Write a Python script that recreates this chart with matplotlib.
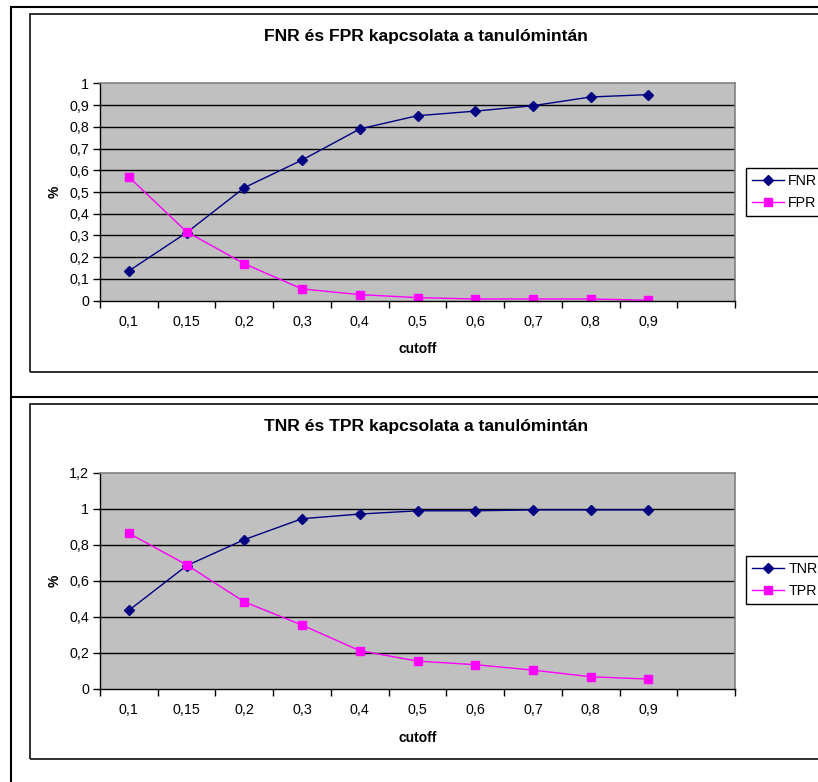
import matplotlib
matplotlib.use('Agg')
import matplotlib.pyplot as plt
from matplotlib.patches import Rectangle
from matplotlib.lines import Line2D

plt.rcParams['font.family'] = ['Liberation Sans', 'DejaVu Sans']

cutoff = ['0,1', '0,15', '0,2', '0,3', '0,4', '0,5', '0,6', '0,7', '0,8', '0,9']
fnr = [0.137, 0.313, 0.52, 0.647, 0.79, 0.851, 0.872, 0.897, 0.937, 0.948]
fpr = [0.569, 0.317, 0.17, 0.054, 0.028, 0.014, 0.008, 0.008, 0.008, 0.002]
tnr = [0.437, 0.685, 0.83, 0.946, 0.972, 0.99, 0.99, 0.995, 0.995, 0.995]
tpr = [0.865, 0.69, 0.484, 0.355, 0.213, 0.155, 0.135, 0.105, 0.068, 0.055]

W, H = 818, 782


def fx(px):
    return px / W


def fy(py):
    return 1 - py / H


def fmt(v):
    s = ('%.1f' % v).replace('.', ',')
    if s.endswith(',0'):
        s = s[:-2]
    return s


def chart(fig, top, bot, title, names, s1, s2, ymax, ystep, frame_top, frame_bot, leg_y):
    # frame
    fig.add_artist(Rectangle((fx(30), fy(frame_bot)), fx(830 - 30), (frame_bot - frame_top) / H,
                             transform=fig.transFigure, fill=False, ec='#202020', lw=1.3))
    ax = fig.add_axes([fx(100), fy(bot), fx(735 - 100), (bot - top) / H])
    ax.set_facecolor('#c0c0c0')
    x = list(range(len(cutoff)))
    ax.plot(x, s1, color='#000080', marker='D', ms=5, lw=1, label=names[0])
    ax.plot(x, s2, color='#ff00ff', marker='s', ms=5.2, lw=1, label=names[1])
    ax.set_xlim(-0.5, len(cutoff) + 0.5)
    ax.set_ylim(0, ymax)
    yt = [i * ystep for i in range(int(round(ymax / ystep)) + 1)]
    ax.set_yticks(yt)
    ax.set_yticklabels([fmt(v) for v in yt], fontsize=10.3)
    for v in yt[1:-1]:
        ax.axhline(v, color='black', lw=1, zorder=0.5)
    ax.set_xticks(x)
    ax.set_xticklabels(cutoff, fontsize=10.3)
    ax.set_xticks([i - 0.5 for i in range(len(cutoff) + 2)], minor=True)
    ax.tick_params(axis='x', which='major', length=0, pad=10)
    ax.tick_params(axis='x', which='minor', length=5, width=1, direction='out')
    ax.tick_params(axis='y', length=5, width=1, direction='out', pad=3)
    for s in ['top', 'right']:
        ax.spines[s].set_color('#808080')
        ax.spines[s].set_linewidth(1.2)
    for s in ['left', 'bottom']:
        ax.spines[s].set_color('black')
        ax.spines[s].set_linewidth(1)
    ax.set_xlabel('cutoff', fontsize=10, fontweight='bold', labelpad=10)
    ax.set_ylabel('%', fontsize=10, fontweight='bold', labelpad=5)
    fig.text(fx(426), fy(frame_top + 23), title, fontsize=12.6, fontweight='bold',
             ha='center', va='center')
    ax.legend(loc='center left', bbox_to_anchor=(fx(746), fy(leg_y)),
              bbox_transform=fig.transFigure, fontsize=10.3, frameon=True,
              fancybox=False, edgecolor='black', framealpha=1, borderpad=0.45,
              handlelength=2.2, handletextpad=0.3, labelspacing=0.5,
              borderaxespad=0)
    return ax


fig = plt.figure(figsize=(W / 100, H / 100), dpi=100)

# outer sheet lines
fig.add_artist(Line2D([fx(11), fx(11)], [fy(7), 0], transform=fig.transFigure, color='black', lw=1.5))
fig.add_artist(Line2D([fx(11), 1], [fy(7), fy(7)], transform=fig.transFigure, color='black', lw=1.5))
fig.add_artist(Line2D([fx(11), 1], [fy(397), fy(397)], transform=fig.transFigure, color='black', lw=1.5))

chart(fig, 83.3, 300.7, 'FNR és FPR kapcsolata a tanulómintán', ['FNR', 'FPR'],
      fnr, fpr, 1.0, 0.1, 14, 372, 192)
chart(fig, 473, 689, 'TNR és TPR kapcsolata a tanulómintán', ['TNR', 'TPR'],
      tnr, tpr, 1.2, 0.2, 404, 759, 580)

fig.savefig('out.png', dpi=100)
